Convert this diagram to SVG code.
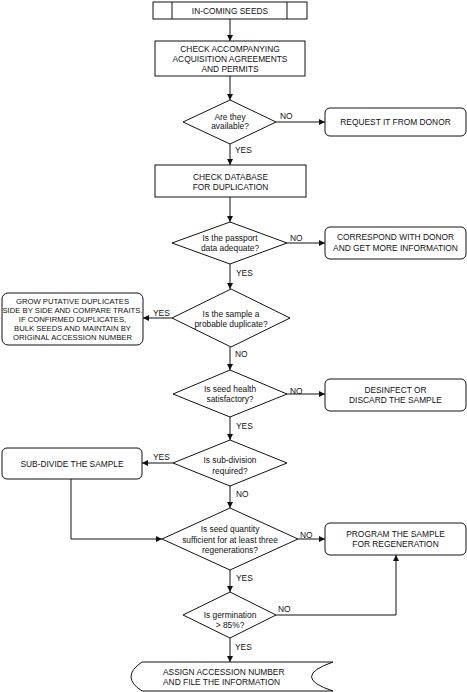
<svg xmlns="http://www.w3.org/2000/svg" width="467" height="692" viewBox="0 0 467 692">
<defs>
<marker id="ah" viewBox="0 0 10 10" refX="10" refY="5" markerWidth="6" markerHeight="6" markerUnits="userSpaceOnUse" orient="auto">
<path d="M0,0 L10,5 L0,10 z" fill="#111"/>
</marker>
<style>
.s{fill:#fff;stroke:#111;stroke-width:1}
.t{font-family:"Liberation Sans",Arial,sans-serif;font-size:8.4px;fill:#111;text-anchor:middle}
.g{font-size:7.7px}
.l{font-family:"Liberation Sans",Arial,sans-serif;font-size:8.4px;fill:#111}
.c{fill:none;stroke:#111;stroke-width:1}
.a{marker-end:url(#ah)}
</style>
</defs>
<rect width="467" height="692" fill="#fff"/>
<g id="connectors">
<line class="c a" x1="230" y1="19" x2="230" y2="41"/>
<line class="c a" x1="230" y1="76" x2="230" y2="100"/>
<line class="c a" x1="276" y1="122" x2="325" y2="122"/>
<line class="c a" x1="230" y1="144" x2="230" y2="165"/>
<line class="c a" x1="230" y1="197" x2="230" y2="222"/>
<line class="c a" x1="287" y1="243" x2="325" y2="243"/>
<line class="c a" x1="230" y1="264" x2="230" y2="289"/>
<line class="c a" x1="172" y1="318" x2="143" y2="318"/>
<line class="c a" x1="230" y1="347" x2="230" y2="370"/>
<line class="c a" x1="287" y1="394" x2="325" y2="394"/>
<line class="c a" x1="230" y1="417" x2="230" y2="440"/>
<line class="c a" x1="173" y1="463" x2="142" y2="463"/>
<polyline class="c a" points="71,479 71,539 162,539"/>
<line class="c a" x1="230" y1="486" x2="230" y2="508"/>
<line class="c a" x1="298" y1="539" x2="325" y2="539"/>
<line class="c a" x1="230" y1="570" x2="230" y2="592"/>
<polyline class="c a" points="276,615 396,615 396,555"/>
<line class="c a" x1="230" y1="638" x2="230" y2="662"/>
<text class="l" x="280" y="119">NO</text>
<text class="l" x="235" y="153">YES</text>
<text class="l" x="290" y="241">NO</text>
<text class="l" x="236" y="276">YES</text>
<text class="l" x="153" y="316">YES</text>
<text class="l" x="235" y="357">NO</text>
<text class="l" x="290" y="394">NO</text>
<text class="l" x="236" y="429">YES</text>
<text class="l" x="153" y="460">YES</text>
<text class="l" x="236" y="497">NO</text>
<text class="l" x="300" y="538">NO</text>
<text class="l" x="236" y="581">YES</text>
<text class="l" x="278" y="612">NO</text>
<text class="l" x="235" y="650">YES</text>
</g>
<g id="n1">
<rect class="s" x="153" y="2" width="154" height="17"/>
<line class="c" x1="172" y1="2" x2="172" y2="19"/>
<line class="c" x1="287" y1="2" x2="287" y2="19"/>
<text class="t" x="230" y="13.5">IN-COMING SEEDS</text>
</g>
<g id="n2">
<rect class="s" x="155" y="41" width="150" height="35"/>
<text class="t" x="230" y="52">CHECK ACCOMPANYING</text>
<text class="t" x="230" y="62">ACQUISITION AGREEMENTS</text>
<text class="t" x="230" y="72">AND PERMITS</text>
</g>
<g id="n3">
<polygon class="s" points="230,100 276,122 230,144 183,122"/>
<text class="t" x="230" y="119.5">Are they</text>
<text class="t" x="230" y="129">available?</text>
</g>
<g id="n4">
<rect class="s" x="325" y="108" width="141" height="28" rx="5"/>
<text class="t" x="395.5" y="125">REQUEST IT FROM DONOR</text>
</g>
<g id="n5">
<rect class="s" x="155" y="165" width="151" height="32"/>
<text class="t" x="230.5" y="179.5">CHECK DATABASE</text>
<text class="t" x="230.5" y="189.5">FOR DUPLICATION</text>
</g>
<g id="n6">
<polygon class="s" points="230,222 287,243 230,264 172,243"/>
<text class="t" x="230" y="241">Is the passport</text>
<text class="t" x="230" y="251">data adequate?</text>
</g>
<g id="n7">
<rect class="s" x="325" y="227" width="141" height="32" rx="5"/>
<text class="t" x="395.5" y="240">CORRESPOND WITH DONOR</text>
<text class="t" x="395.5" y="251">AND GET MORE INFORMATION</text>
</g>
<g id="n8">
<polygon class="s" points="231,289 290,318 231,347 172,318"/>
<text class="t" x="231" y="317">Is the sample a</text>
<text class="t" x="231" y="327">probable duplicate?</text>
</g>
<g id="n9">
<rect class="s" x="2" y="293" width="141" height="52" rx="6"/>
<text class="t g" x="72.5" y="303.5">GROW PUTATIVE DUPLICATES</text>
<text class="t g" x="72.5" y="312.7">SIDE BY SIDE AND COMPARE TRAITS.</text>
<text class="t g" x="72.5" y="322">IF CONFIRMED DUPLICATES,</text>
<text class="t g" x="72.5" y="331">BULK SEEDS AND MAINTAIN BY</text>
<text class="t g" x="72.5" y="340">ORIGINAL ACCESSION NUMBER</text>
</g>
<g id="n10">
<polygon class="s" points="230,370 287,394 230,417 173,394"/>
<text class="t" x="230" y="392">Is seed health</text>
<text class="t" x="230" y="402">satisfactory?</text>
</g>
<g id="n11">
<rect class="s" x="325" y="379" width="141" height="32" rx="5"/>
<text class="t" x="395.5" y="393">DESINFECT OR</text>
<text class="t" x="395.5" y="403">DISCARD THE SAMPLE</text>
</g>
<g id="n12">
<polygon class="s" points="230,440 287,463 230,486 173,463"/>
<text class="t" x="230" y="463">Is sub-division</text>
<text class="t" x="230" y="473.5">required?</text>
</g>
<g id="n13">
<rect class="s" x="2" y="448" width="140" height="31" rx="5"/>
<text class="t" x="72" y="466.5">SUB-DIVIDE THE SAMPLE</text>
</g>
<g id="n14">
<polygon class="s" points="230,508 298,539 230,570 162,539"/>
<text class="t" x="230" y="532">Is seed quantity</text>
<text class="t" x="230" y="542.7">sufficient for at least three</text>
<text class="t" x="230" y="553">regenerations?</text>
</g>
<g id="n15">
<rect class="s" x="325" y="523" width="141" height="32" rx="5"/>
<text class="t" x="395.5" y="537">PROGRAM THE SAMPLE</text>
<text class="t" x="395.5" y="547">FOR REGENERATION</text>
</g>
<g id="n16">
<polygon class="s" points="230,592 276,615 230,638 183,615"/>
<text class="t" x="230" y="618">Is germination</text>
<text class="t" x="230" y="628">&gt; 85%?</text>
</g>
<g id="n17">
<path class="s" d="M142,662 L333,662 Q290,677 333,691 L142,691 Q120,677 142,662 Z"/>
<text class="l" x="163" y="675">ASSIGN ACCESSION NUMBER</text>
<text class="l" x="163" y="685">AND FILE THE INFORMATION</text>
</g>
</svg>
